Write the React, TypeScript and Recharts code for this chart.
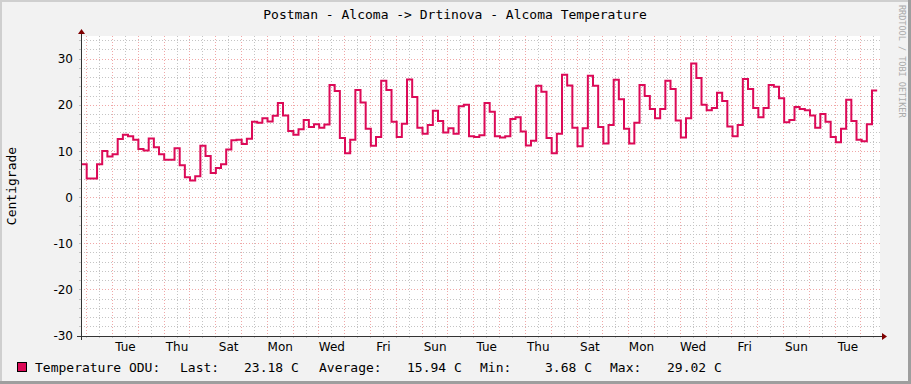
import { LineChart, Line, XAxis, YAxis, CartesianGrid } from 'recharts'

const TITLE = 'Postman - Alcoma -> Drtinova - Alcoma Temperature'
const Y_LABEL = 'Centigrade'
const SERIES_NAME = 'Temperature ODU:'
const WATERMARK = 'RRDTOOL / TOBI OETIKER'

// one sample every ~4.8 h, the first one just before Monday 00:00
const STEP_HOURS = 4.805
const TEMPS = [
  7.2, 4.1, 4.1, 7.2, 10.1, 8.9, 9.4, 12.7, 13.6, 13.3,
  12.5, 10.5, 10.2, 12.8, 10.9, 9.4, 8.2, 8.2, 10.7, 7.0,
  4.4, 3.68, 4.6, 11.2, 9.0, 5.3, 6.4, 7.2, 10.4, 12.4,
  12.5, 11.6, 12.75, 16.4, 16.2, 17.2, 16.5, 17.7, 20.5, 17.8,
  14.4, 13.6, 14.8, 16.8, 15.3, 15.9, 15.1, 15.8, 24.4, 23.1,
  12.9, 9.6, 12.5, 23.3, 20.6, 14.9, 11.2, 13.1, 25.3, 23.3,
  16.4, 13.1, 16.0, 25.6, 21.8, 15.1, 13.8, 15.7, 18.8, 16.6,
  14.1, 15.0, 13.8, 19.8, 20.1, 13.3, 13.1, 13.5, 20.5, 18.6,
  13.3, 13.0, 13.3, 17.0, 17.4, 14.3, 11.3, 12.3, 24.2, 22.9,
  12.9, 9.6, 13.8, 26.6, 24.3, 15.1, 11.1, 15.0, 26.4, 24.2,
  15.3, 11.7, 15.7, 25.5, 21.3, 14.9, 11.7, 16.2, 24.4, 22.0,
  19.2, 17.2, 19.2, 25.3, 23.5, 16.7, 13.0, 17.2, 29.02, 25.9,
  20.1, 18.9, 19.4, 22.7, 20.9, 15.4, 13.3, 15.7, 25.7, 23.5,
  19.4, 17.4, 19.4, 24.4, 24.0, 21.5, 16.3, 16.8, 19.6, 19.2,
  18.9, 17.8, 15.1, 18.1, 16.4, 13.1, 12.0, 14.9, 21.2, 16.6,
  12.5, 12.2, 15.9, 23.18,
]

const DAY_NAMES = ['Mon', 'Tue', 'Wed', 'Thu', 'Fri', 'Sat', 'Sun']
// hours since Monday 00:00 where a day name is written (noon, every 2nd day)
const LABEL_HOURS = [36, 84, 132, 180, 228, 276, 324, 372, 420, 468, 516, 564, 612, 660, 708]
const Y_LABELS = [-30, -20, -10, 0, 10, 20, 30]
const STATS = [
  { label: 'Last:', value: '23.18 C', lx: 180, vx: 244 },
  { label: 'Average:', value: '15.94 C', lx: 319, vx: 407 },
  { label: 'Min:', value: '3.68 C', lx: 480, vx: 545 },
  { label: 'Max:', value: '29.02 C', lx: 610, vx: 667 },
]

const X_DOMAIN = [-5.3, 737.8]
const Y_DOMAIN = [-30, 35]

const LINE_COLOR = '#dc0a57'
const GRID = '#c4c4c4'
const MGRID = '#f0a7a7'
const MONO = '"DejaVu Sans Mono", monospace'
const SANS = '"DejaVu Sans", sans-serif'

const data = TEMPS.map((t, i) => ({ h: (i - 1) * STEP_HOURS, t }))
// hold the last value for one more step
data.push({ h: (TEMPS.length - 1) * STEP_HOURS, t: TEMPS[TEMPS.length - 1] })

const minorY: number[] = []
for (let v = -28; v <= 34; v += 2) if (v % 10 !== 0) minorY.push(v)
const majorY = Y_LABELS.filter((v) => v > -30)
const minorX: number[] = []
const majorX: number[] = []
for (let h = 0; h <= X_DOMAIN[1]; h += 12) (h % 24 === 0 ? majorX : minorX).push(h)
const xTicks = [...majorX, ...minorX].sort((a, b) => a - b)
const yTicks = [-30, ...minorY, ...majorY].sort((a, b) => a - b)

const dayLabel = (h: number) =>
  LABEL_HOURS.includes(h) ? DAY_NAMES[Math.floor(h / 24) % 7] : ''

export default function App() {
  return (
    <div style={{ position: 'absolute', left: 0, top: 0, width: 911, height: 384, background: '#f2f2f2', overflow: 'hidden' }}>
      <style>{`
        .recharts-cartesian-grid line, .recharts-cartesian-axis-tick-line { shape-rendering: crispEdges; }
      `}</style>
      <div style={{ position: 'absolute', left: 0, top: 0 }}>
        <LineChart width={911} height={384} data={data} margin={{ top: 36, right: 31, bottom: 18, left: 21 }}>
          <CartesianGrid fill="#ffffff" stroke={GRID} strokeDasharray="1 2" horizontalValues={minorY} verticalValues={minorX} />
          <CartesianGrid stroke={MGRID} strokeDasharray="1 2" horizontalValues={majorY} verticalValues={majorX} />
          <XAxis
            dataKey="h"
            type="number"
            domain={X_DOMAIN}
            allowDataOverflow
            ticks={xTicks}
            interval={0}
            tickFormatter={dayLabel}
            axisLine={false}
            tickLine={{ stroke: GRID }}
            tickSize={2}
            tickMargin={4}
            height={30}
            tick={{ fill: '#000', fontSize: 12, fontFamily: SANS }}
          />
          <YAxis
            type="number"
            domain={Y_DOMAIN}
            allowDataOverflow
            ticks={yTicks}
            interval={0}
            tickFormatter={(v: number) => (Y_LABELS.includes(v) ? String(v) : '')}
            axisLine={false}
            tickLine={{ stroke: GRID }}
            tickSize={2}
            tickMargin={6}
            width={60}
            tick={{ fill: '#000', fontSize: 12, fontFamily: SANS }}
          />
          <Line
            type="stepAfter"
            dataKey="t"
            stroke={LINE_COLOR}
            strokeWidth={2}
            dot={false}
            isAnimationActive={false}
          />
        </LineChart>
      </div>

      <svg width={911} height={384} style={{ position: 'absolute', left: 0, top: 0, pointerEvents: 'none' }}>
        {/* shaded frame */}
        <rect x={0} y={0} width={911} height={2} fill="#cfcfcf" />
        <rect x={0} y={0} width={2} height={384} fill="#cfcfcf" />
        <rect x={908} y={0} width={3} height={384} fill="#9e9e9e" />
        <rect x={0} y={381} width={911} height={3} fill="#9e9e9e" />

        {/* axes + arrows */}
        <line x1={77} y1={336.5} x2={884} y2={336.5} stroke="#333" strokeWidth={1} />
        <line x1={81.5} y1={340} x2={81.5} y2={32} stroke="#333" strokeWidth={1} />
        <polygon points="882,333 882,340 887,336.5" fill="#800000" />
        <polygon points="78,34 85,34 81.5,29" fill="#800000" />

        <text x={455} y={19} textAnchor="middle" fontFamily={MONO} fontSize={13} fill="#000">
          {TITLE}
        </text>
        <text
          transform="translate(16,186) rotate(-90)"
          textAnchor="middle"
          fontFamily={MONO}
          fontSize={13}
          fill="#000"
        >
          {Y_LABEL}
        </text>
        <text transform="translate(899,5) rotate(90)" fontFamily={MONO} fontSize={8.5} fill="#aaaaaa">
          {WATERMARK}
        </text>

        {/* legend */}
        <rect x={17.5} y={362.5} width={9} height={9} fill={LINE_COLOR} stroke="#000" strokeWidth={1} />
        <text x={35} y={372} fontFamily={MONO} fontSize={13} fill="#000">
          {SERIES_NAME}
        </text>
        {STATS.map((s) => (
          <g key={s.label}>
            <text x={s.lx} y={372} fontFamily={MONO} fontSize={13} fill="#000">
              {s.label}
            </text>
            <text x={s.vx} y={372} fontFamily={MONO} fontSize={13} fill="#000">
              {s.value}
            </text>
          </g>
        ))}
      </svg>
    </div>
  )
}
